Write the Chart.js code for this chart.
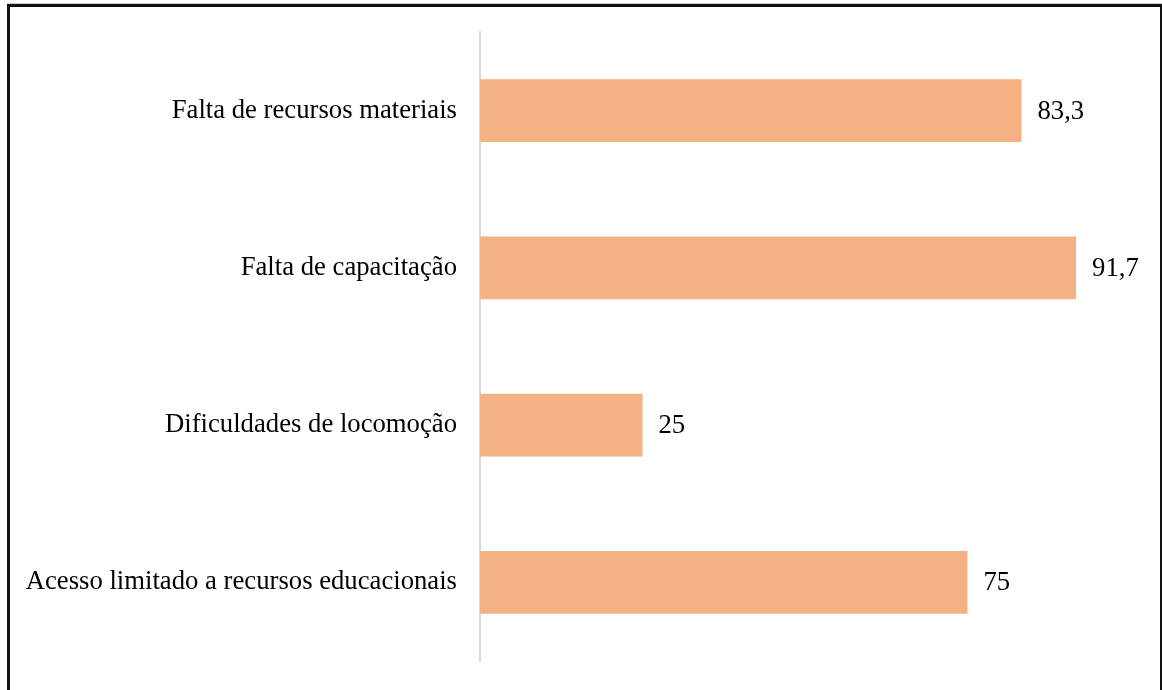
<!DOCTYPE html>
<html>
<head>
<meta charset="utf-8">
<script src="https://cdn.jsdelivr.net/npm/chart.js@4"></script>
<style>
  body { margin: 0; background: #fff; }
  #box {
    position: absolute; left: 7px; top: 4px; width: 1150px; height: 700px;
    border: 3px solid #111; box-shadow: 0 -1px 0 #ccc;
  }
  #wrap { position: absolute; left: 0; top: 0; width: 1162px; height: 690px; }
</style>
</head>
<body>
<div id="box"></div>
<div id="wrap"><canvas id="myChart"></canvas></div>
<script>
const categories = [
  'Falta de recursos materiais',
  'Falta de capacitação',
  'Dificuldades de locomoção',
  'Acesso limitado a recursos educacionais'
]
const values = [83.3, 91.7, 25, 75]

// writes the value after each bar, with a comma as decimal mark
const valueLabels = {
  id: 'valueLabels',
  afterDatasetsDraw(chart) {
    const ctx = chart.ctx
    const meta = chart.getDatasetMeta(0)
    ctx.save()
    ctx.font = '26.7px "Liberation Serif", "Times New Roman", serif'
    ctx.fillStyle = '#000'
    ctx.textBaseline = 'middle'
    ctx.textAlign = 'left'
    meta.data.forEach((bar, i) => {
      const txt = String(values[i]).replace('.', ',')
      ctx.fillText(txt, bar.x + 16, bar.y + 1)
    })
    ctx.restore()
  }
}

const renderChart = () => {
  const ctx = document.getElementById('myChart').getContext('2d')
  new Chart(ctx, {
    type: 'bar',
    data: {
      labels: categories,
      datasets: [{
        data: values,
        backgroundColor: '#F4B183',
        borderWidth: 0,
        categoryPercentage: 1,
        barPercentage: 0.4
      }]
    },
    options: {
      indexAxis: 'y',
      responsive: true,
      maintainAspectRatio: false,
      animation: false,
      layout: { padding: { top: 32, bottom: 29, left: 0, right: 32 } },
      plugins: { legend: { display: false }, tooltip: { enabled: false } },
      scales: {
        x: { display: false, min: 0, max: 100 },
        y: {
          grid: { display: false, drawTicks: false },
          border: { display: true, color: '#d9d9d9', width: 2 },
          ticks: {
            padding: 23,
            color: '#000',
            font: { family: '"Liberation Serif", "Times New Roman", serif', size: 26.7 }
          },
          afterFit: (scale) => {
            scale.width = 480
            scale.paddingTop = 0
            scale.paddingBottom = 0
          }
        }
      }
    },
    plugins: [valueLabels]
  })
}

renderChart()
</script>
</body>
</html>
